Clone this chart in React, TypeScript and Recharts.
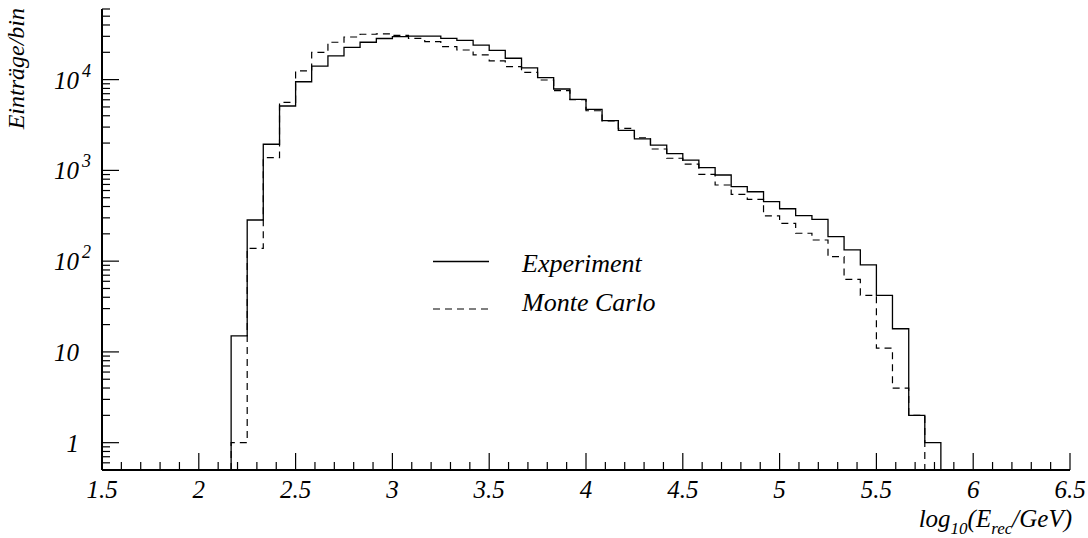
import { LineChart, Line, XAxis, YAxis, Legend } from 'recharts'

// lower bin edges (width 1/12 in log10 E), last entry is the upper edge of the last bin
const BIN_EDGES = [
  2.167, 2.25, 2.333, 2.417, 2.5, 2.583, 2.667, 2.75, 2.833, 2.917,
  3.0, 3.083, 3.167, 3.25, 3.333, 3.417, 3.5, 3.583, 3.667, 3.75,
  3.833, 3.917, 4.0, 4.083, 4.167, 4.25, 4.333, 4.417, 4.5, 4.583,
  4.667, 4.75, 4.833, 4.917, 5.0, 5.083, 5.167, 5.25, 5.333, 5.417,
  5.5, 5.583, 5.667, 5.75, 5.833,
]

const EXPERIMENT = [
  15, 284, 1940, 5120, 9480, 14100, 18300, 22700, 25800, 28400,
  29700, 30200, 30200, 28500, 27100, 24000, 21000, 17200, 13500, 10500,
  7880, 6070, 4710, 3530, 2760, 2220, 1900, 1530, 1300, 1070,
  890, 661, 582, 452, 378, 317, 289, 186, 133, 91,
  42, 18, 2, 1,
]

const MONTE_CARLO = [
  1, 138, 1380, 5620, 12500, 20000, 25800, 29500, 31600, 32000,
  30800, 28500, 26200, 23100, 21200, 18700, 16100, 13900, 12000, 9900,
  7550, 6010, 4540, 3500, 2900, 2290, 1720, 1360, 1175, 906,
  690, 545, 480, 316, 261, 203, 171, 112, 63, 42,
  11, 4, 2,
]

const X_LABELS = [1.5, 2, 2.5, 3, 3.5, 4, 4.5, 5, 5.5, 6, 6.5]
const Y_LABELS = [1, 10, 100, 1000, 10000]
const Y_LABEL_BASE = ['1', '10', '10', '10', '10']
const Y_LABEL_EXP = ['', '', '2', '3', '4']

const X_DOMAIN = [1.5, 6.5]
const Y_DOMAIN = [0.5, 60000]

const TXT = {
  fontFamily: '"Liberation Serif", "Times New Roman", Times, serif',
  fontStyle: 'italic',
} as const
const DASH = '7 5'

// histogram outline: rise from the floor, one point per bin, close back to the floor
function toSteps(values: number[]) {
  const n = values.length
  const pts = [{ x: BIN_EDGES[0], y: Y_DOMAIN[0] }]
  values.forEach((v, i) => pts.push({ x: BIN_EDGES[i], y: v }))
  pts.push({ x: BIN_EDGES[n], y: values[n - 1] })
  pts.push({ x: BIN_EDGES[n], y: Y_DOMAIN[0] })
  return pts
}

const xTicks: number[] = []
for (let i = 0; i <= 50; i++) xTicks.push(Math.round((1.5 + i * 0.1) * 10) / 10)

const yTicks: number[] = []
for (let e = -1; e <= 4; e++) {
  for (let d = 1; d <= 9; d++) {
    const v = d * Math.pow(10, e)
    if (v >= Y_DOMAIN[0] && v <= Y_DOMAIN[1]) yTicks.push(Number(v.toPrecision(3)))
  }
}

const isMajorX = (v: number) => X_LABELS.some((m) => Math.abs(m - v) < 1e-6)
const majorYIndex = (v: number) => Y_LABELS.findIndex((m) => Math.abs(m - v) < 1e-9)

function BottomTick({ x, y, payload }: any) {
  const major = isMajorX(payload.value)
  return (
    <g>
      <line x1={x} x2={x} y1={y} y2={y - (major ? 17 : 8)} stroke="#000" strokeWidth={1.2} />
      {major && (
        <text x={x} y={y + 28} textAnchor="middle" style={TXT} fontSize={25} fill="#000">
          {String(payload.value)}
        </text>
      )}
    </g>
  )
}

function TopTick({ x, y, payload }: any) {
  const major = isMajorX(payload.value)
  return <line x1={x} x2={x} y1={y} y2={y + (major ? 17 : 8)} stroke="#000" strokeWidth={1.2} />
}

function LeftTick({ x, y, payload }: any) {
  const idx = majorYIndex(payload.value)
  const major = idx >= 0
  return (
    <g>
      <line x1={x} x2={x + (major ? 17 : 8)} y1={y} y2={y} stroke="#000" strokeWidth={1.2} />
      {major && (
        <text x={x - 23} y={y + 9} textAnchor="end" style={TXT} fontSize={25} fill="#000">
          {Y_LABEL_BASE[idx]}
        </text>
      )}
      {major && Y_LABEL_EXP[idx] && (
        <text x={x - 20} y={y - 3} textAnchor="start" style={TXT} fontSize={18} fill="#000">
          {Y_LABEL_EXP[idx]}
        </text>
      )}
    </g>
  )
}

function RightTick({ x, y, payload }: any) {
  const major = majorYIndex(payload.value) >= 0
  return <line x1={x} x2={x - (major ? 17 : 8)} y1={y} y2={y} stroke="#000" strokeWidth={1.2} />
}

function renderLegend() {
  return (
    <svg width={260} height={90} style={{ display: 'block' }}>
      <line x1={3} x2={59} y1={21.5} y2={21.5} stroke="#000" strokeWidth={1.3} />
      <text x={92} y={32} style={TXT} fontSize={26} fill="#000">
        Experiment
      </text>
      <line x1={3} x2={59} y1={69} y2={69} stroke="#000" strokeWidth={1.2} strokeDasharray={DASH} />
      <text x={92} y={71} style={TXT} fontSize={26} fill="#000">
        Monte Carlo
      </text>
    </svg>
  )
}

export default function App() {
  const expData = toSteps(EXPERIMENT)
  const mcData = toSteps(MONTE_CARLO)
  const axisLine = { stroke: '#000', strokeWidth: 2 }

  return (
    <div style={{ position: 'absolute', left: 0, top: 0, width: 1088, height: 538, background: '#fff' }}>
      <LineChart width={1088} height={538} margin={{ top: 9, right: 18, bottom: 0, left: 0 }}>
        <XAxis
          xAxisId="bottom"
          dataKey="x"
          type="number"
          domain={X_DOMAIN}
          allowDataOverflow
          ticks={xTicks}
          interval={0}
          tickSize={0}
          tickMargin={0}
          tickLine={false}
          axisLine={axisLine}
          tick={<BottomTick />}
          height={68}
        />
        <XAxis
          xAxisId="top"
          orientation="top"
          dataKey="x"
          type="number"
          domain={X_DOMAIN}
          allowDataOverflow
          ticks={xTicks}
          interval={0}
          tickSize={0}
          tickMargin={0}
          tickLine={false}
          axisLine={axisLine}
          tick={<TopTick />}
          height={0}
        />
        <YAxis
          yAxisId="left"
          scale="log"
          type="number"
          domain={Y_DOMAIN}
          allowDataOverflow
          ticks={yTicks}
          interval={0}
          tickSize={0}
          tickMargin={0}
          tickLine={false}
          axisLine={axisLine}
          tick={<LeftTick />}
          width={102}
        />
        <YAxis
          yAxisId="right"
          orientation="right"
          scale="log"
          type="number"
          domain={Y_DOMAIN}
          allowDataOverflow
          ticks={yTicks}
          interval={0}
          tickSize={0}
          tickMargin={0}
          tickLine={false}
          axisLine={axisLine}
          tick={<RightTick />}
          width={0}
        />
        <Line
          xAxisId="bottom"
          yAxisId="left"
          data={mcData}
          dataKey="y"
          type="stepAfter"
          stroke="#000"
          strokeWidth={1.2}
          strokeDasharray={DASH}
          dot={false}
          activeDot={false}
          isAnimationActive={false}
        />
        <Line
          xAxisId="bottom"
          yAxisId="left"
          data={expData}
          dataKey="y"
          type="stepAfter"
          stroke="#000"
          strokeWidth={1.3}
          dot={false}
          activeDot={false}
          isAnimationActive={false}
        />
        <Legend
          layout="vertical"
          align="center"
          verticalAlign="middle"
          content={renderLegend}
          wrapperStyle={{ position: 'absolute', left: 430, top: 240, width: 260, height: 90 }}
        />
        <text x={24} y={8} transform="rotate(-90 24 8)" textAnchor="end" style={TXT} fontSize={24} fill="#000">
          Einträge/bin
        </text>
        <text x={1072} y={527} textAnchor="end" style={TXT} fontSize={25} fill="#000">
          log
          <tspan fontSize={17} dy={7}>10</tspan>
          <tspan dy={-7}>(E</tspan>
          <tspan fontSize={17} dy={7}>rec</tspan>
          <tspan dy={-7}>/GeV)</tspan>
        </text>
      </LineChart>
    </div>
  )
}
